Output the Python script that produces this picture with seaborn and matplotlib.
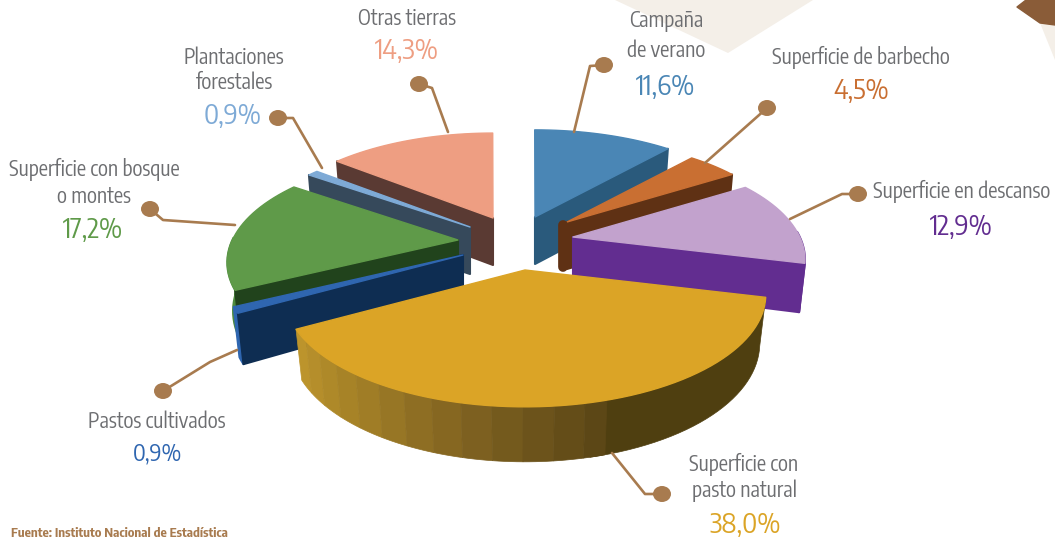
import numpy as np
import matplotlib
matplotlib.use("Agg")
import matplotlib.pyplot as plt
from matplotlib.patches import Polygon, Ellipse
from matplotlib import font_manager
import seaborn as sns
import warnings

warnings.filterwarnings("ignore")

# data, clockwise from the right end of the big slice
categories = ["Superficie con\npasto natural", "Pastos cultivados", "Superficie con bosque\no montes",
              "Plantaciones\nforestales", "Otras tierras", "Campaña\nde verano",
              "Superficie de barbecho", "Superficie en descanso"]
values = [38.0, 0.9, 17.2, 0.9, 14.3, 11.6, 4.5, 12.9]
value_labels = ["38,0%", "0,9%", "17,2%", "0,9%", "14,3%", "11,6%", "4,5%", "12,9%"]

top_colors = ["#dba426", "#2f66b0", "#5f9a49", "#7eaad6", "#ee9e82", "#4a86b5", "#c96f32", "#c2a2cd"]
wall_colors = ["#4f3f10", "#0e2d52", "#21431c", "#36495b", "#5a3a33", "#2a5a7c", "#5f3114", "#622d90"]
rim_colors = ["#4f3f10", "#2f66b0", "#4d8a3d", "#36495b", "#5a3a33", "#6f7f95", "#5f3114", "#622d90"]
text_colors = ["#dba426", "#2f66b0", "#5f9a49", "#7eaad6", "#ee9e82", "#4a86b5", "#c96f32", "#622d90"]

# explode layout: where each slice's tip sits and how big it is
apex_x = [525, 463, 458, 470, 493, 535, 567, 573]
apex_y = [270, 255, 240, 227, 218, 217, 222, 237]
radius = [1.0, 0.985, 0.96, 0.94, 0.96, 0.99, 0.92, 0.965]
draw_order = [5, 4, 3, 2, 1, 6, 7, 0]

# label positions, centre of name and of value
label_x = [744, 157, 94, 234, 407, 666, 861, 962]
label_y = [477, 422, 183, 70, 19, 36, 57, 191]
line_gap = [1.2, 1.2, 1.22, 1.12, 1.2, 1.42, 1.2, 1.2]
pct_x = [745, 157, 93, 233, 407, 665, 861, 961]
pct_y = [525, 453, 230, 116, 51, 87, 91, 227]
pct_size = [20, 17, 20, 20, 20, 20, 20, 20]

# leader lines, dot first
leaders = [
    [(662, 494), (645, 494), (612, 453)],
    [(163, 391), (210, 362), (237, 350)],
    [(150, 209), (163, 220), (235, 225)],
    [(278, 118), (293, 118), (322, 168)],
    [(419, 84), (432, 88), (448, 132)],
    [(604, 65), (590, 66), (574, 132)],
    [(767, 108), (705, 163)],
    [(858, 194), (842, 194), (790, 219)],
]

A, B, K = 235, 107, 0.218
START = -14
DEPTH = 47
BROWN = "#a87b4f"
GREY = "#6d6e71"

sns.set_theme(style="white")
available = {f.name for f in font_manager.fontManager.ttflist}
narrow = next((n for n in ["Encode Sans Condensed", "Fira Sans Condensed", "Barlow Condensed",
                           "Roboto Condensed", "Roboto"] if n in available), "DejaVu Sans")
plt.rcParams["font.family"] = [narrow, "DejaVu Sans"]


def project(deg, rad=1.0):
    # perspective view of a point on the pie rim, offset from the tip
    t = np.radians(deg)
    x, y = np.cos(t) * rad, np.sin(t) * rad
    s = 1 / (1 + K * y)
    return A * x * s, -B * y * s, y


def rim_points(cx, cy, angles, rad):
    px, py, yy = project(angles, rad)
    return np.column_stack([cx + px, cy + py]), yy


def drop(cx, cy, pts, yy):
    # lower face is a bit smaller and the front hangs further down
    d = DEPTH + 8 * np.clip(-yy, 0, 1)
    return np.column_stack([cx + (pts[:, 0] - cx) * 0.975, pts[:, 1] + d])


def draw_wedge(ax, i, t0, t1):
    cx, cy, rad = apex_x[i], apex_y[i], radius[i]
    n = max(int(abs(t1 - t0) / 2), 4)
    angles = np.linspace(t0, t1, n)
    pts, yy = rim_points(cx, cy, angles, rad)
    low = drop(cx, cy, pts, yy)
    front = yy < 0.05

    if i == 0:
        # faceted shading on the outer wall of the large slice
        dark_from = -74
        steps = np.arange(t0, dark_from, 6.0)
        shades = sns.blend_palette(["#bc942c", "#a07d26", "#7d6020", "#5c4716"], len(steps))
        body = angles >= dark_from - 4
        ax.add_patch(Polygon(np.vstack([pts[body], low[body][::-1]]), fc="#4f3f10", ec="#4f3f10", lw=0.5))
        for s0, col in zip(steps, shades):
            aa = np.linspace(s0, min(s0 + 6.0, dark_from), 6)
            p, y2 = rim_points(cx, cy, aa, rad)
            q = drop(cx, cy, p, y2)
            ax.add_patch(Polygon(np.vstack([p, q[::-1]]), fc=col, ec=col, lw=0.5))
    else:
        if front.sum() > 1:
            ax.add_patch(Polygon(np.vstack([pts[front], low[front][::-1]]), fc=rim_colors[i],
                                 ec=rim_colors[i], lw=1.5, joinstyle="round"))
        # radial wall on the edge that faces the viewer
        k = int(np.argmin(yy))
        tip_low = drop(cx, cy, np.array([[cx, cy]]), np.array([0.0]))[0]
        wall = [(cx, cy), tuple(pts[k]), tuple(low[k]), tuple(tip_low)]
        ax.add_patch(Polygon(wall, fc=wall_colors[i], ec=wall_colors[i], lw=1.5, joinstyle="round"))
        if i == 6:
            ax.plot([cx - 4, cx - 4], [cy + 3, cy + 45], color=wall_colors[i], lw=7, solid_capstyle="round")

    ax.add_patch(Polygon(np.vstack([[cx, cy], pts]), fc=top_colors[i], ec=top_colors[i], lw=1, joinstyle="round"))


fig = plt.figure(figsize=(10.55, 5.37), dpi=100)
ax = fig.add_axes([0, 0, 1, 1])
ax.set_xlim(0, 1055)
ax.set_ylim(537, 0)
ax.axis("off")

# page decoration at the top
ax.add_patch(Polygon([(615, 0), (728, 53), (813, 0)], fc="#f4efe8", ec="none"))
ax.add_patch(Polygon([(1040, 23), (1055, 25), (1055, 60)], fc="#f4efe8", ec="none"))
ax.add_patch(Polygon([(1017, 7), (1026, 0), (1055, 0), (1055, 25), (1040, 23)], fc="#8a5c38", ec="#8a5c38",
                     lw=1, joinstyle="round"))

for path in leaders:
    xs, ys = zip(*path)
    ax.plot(xs, ys, color=BROWN, lw=1.9, solid_joinstyle="round")
    ax.add_patch(Ellipse(path[0], 18, 16, fc=BROWN, ec="none"))

edges = START - 360 * np.cumsum([0] + values) / sum(values)
for i in draw_order:
    draw_wedge(ax, i, edges[i + 1], edges[i])

for i, name in enumerate(categories):
    ax.text(label_x[i], label_y[i], name, ha="center", va="center", fontsize=15, color=GREY,
            linespacing=line_gap[i])
    ax.text(pct_x[i], pct_y[i], value_labels[i], ha="center", va="center", fontsize=pct_size[i],
            color=text_colors[i])

ax.text(11, 537, "Fuente: Instituto Nacional de Estadística", ha="left", va="baseline", fontsize=9.4,
        color=BROWN, fontweight="bold")

fig.savefig("out.png", dpi=100)
